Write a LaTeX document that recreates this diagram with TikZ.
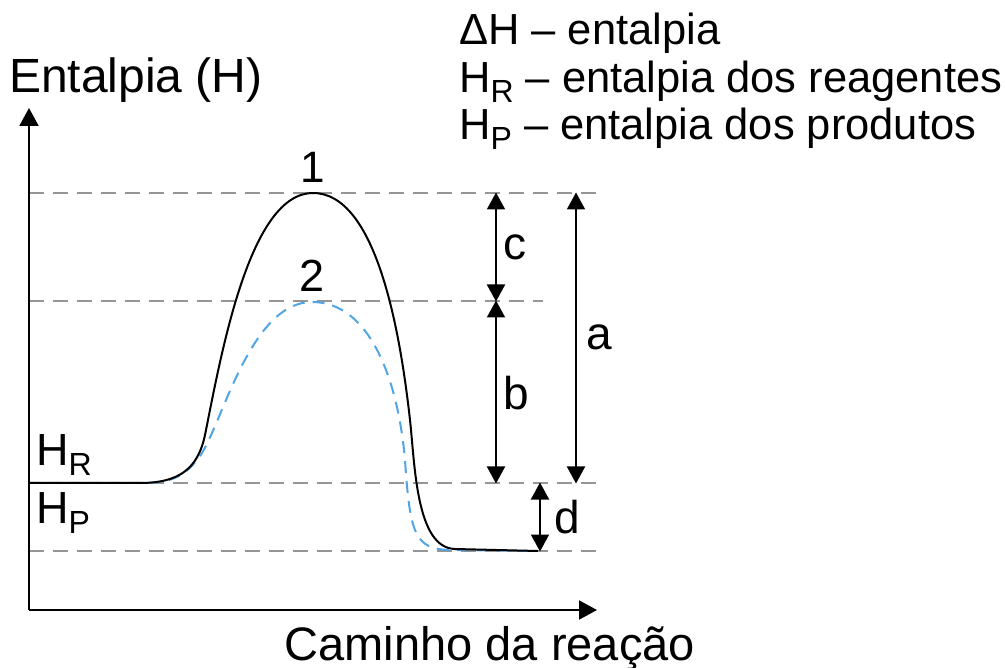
\documentclass[tikz,border=0pt]{standalone}
\usepackage{fontspec}
\setmainfont{Liberation Sans}
\usetikzlibrary{arrows.meta}
\newcommand\myfs[1]{\fontsize{#1}{#1}\selectfont}
\definecolor{dashgray}{RGB}{150,150,150}
\definecolor{curveblue}{RGB}{80,165,230}
\begin{document}
\begin{tikzpicture}[x=1pt,y=-1pt,
  lbl/.style={inner sep=0pt,anchor=base west},
  axisline/.style={line width=2pt,-{Triangle[width=19pt,length=18pt]}},
  guide/.style={draw=dashgray,line width=1.6pt,dash pattern=on 15pt off 9pt},
  dim/.style={line width=2pt,{Triangle[width=18pt,length=17pt]}-{Triangle[width=18pt,length=17pt]},shorten <=-0.5pt,shorten >=-0.5pt},
  curveone/.style={line width=2pt,black},
  curvetwo/.style={line width=2pt,curveblue,dash pattern=on 12pt off 8pt},
  small/.style={lbl,font=\myfs{46}},
  legend/.style={lbl,font=\myfs{43.5}}]
\useasboundingbox (0,0) rectangle (1005,668);
% origin and axes
\coordinate (O) at (29,610);
\coordinate (ytip) at (29,108);
\coordinate (xtip) at (597,610);
% guide lines
\coordinate (t1) at (29,193); \coordinate (t2) at (597,193);
\coordinate (m1) at (29,301); \coordinate (m2) at (543,301);
\coordinate (r1) at (29,483); \coordinate (r2) at (597,483);
\coordinate (p1) at (29,551); \coordinate (p2) at (597,551);
\draw[guide] (t1) -- (t2);
\draw[guide] (m1) -- (m2);
\draw[guide] (r1) -- (r2);
\draw[guide] (p1) -- (p2);
% curves
\draw[curvetwo] (29,483) -- (140,483) .. controls (170,483) and (184,478) .. (200,456)
  .. controls (222,425) and (250,302) .. (312,302)
  .. controls (370,302) and (398,380) .. (405,460)
  .. controls (410,535) and (415,549) .. (450,550) -- (528,551);
\draw[curveone] (29,483) -- (140,483) .. controls (180,483) and (198,468) .. (205,435)
  .. controls (222,350) and (250,193) .. (313,193)
  .. controls (376,193) and (400,330) .. (410,420)
  .. controls (415,465) and (416,548) .. (455,549) -- (538,551);
% axes
\draw[axisline] (O) -- (ytip);
\draw[axisline] (O) -- (xtip);
% dimension arrows
\coordinate (ca) at (496,193); \coordinate (cb) at (496,301);
\coordinate (bb) at (496,483);
\coordinate (aa) at (576,193); \coordinate (ab) at (576,483);
\coordinate (da) at (540,483); \coordinate (db) at (540,551);
\draw[dim] (ca) -- (cb);
\draw[dim] (cb) -- (bb);
\draw[dim] (aa) -- (ab);
\draw[dim] (da) -- (db);
% labels
\node[small] (lc) at (503,260) {c};
\node[small] (lb) at (503,410) {b};
\node[small] (la) at (586,350) {a};
\node[small] (ld) at (554,533) {d};
\node[inner sep=0pt,anchor=base,font=\myfs{44}] (n1) at (313,183) {1};
\node[inner sep=0pt,anchor=base,font=\myfs{45}] (n2) at (312,292) {2};
\node[lbl,font=\myfs{45}] (hr) at (36,465) {H\raisebox{-10pt}{\myfs{32}R}};
\node[lbl,font=\myfs{45}] (hp) at (36,523) {H\raisebox{-10pt}{\myfs{32}P}};
\node[lbl,font=\myfs{48}] (ylab) at (9,93) {Entalpia (H)};
\node[lbl,font=\myfs{47}] (xlab) at (284.5,660) {Caminho da reação};
% legend
\node[legend] (leg1) at (459,45) {ΔH – entalpia};
\node[legend] (leg2) at (459,93) {H\raisebox{-10pt}{\myfs{32}R} – entalpia dos reagentes};
\node[legend] (leg3) at (459,140) {H\raisebox{-10pt}{\myfs{32}P} – entalpia dos produtos};
\end{tikzpicture}
\end{document}
